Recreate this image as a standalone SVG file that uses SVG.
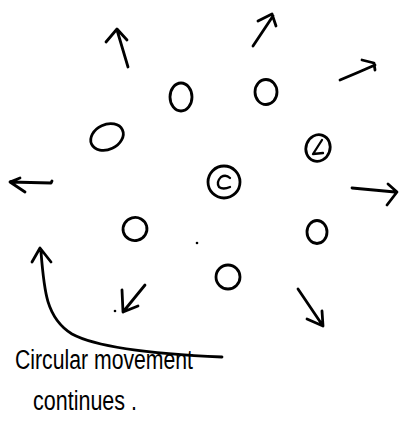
<svg xmlns="http://www.w3.org/2000/svg" width="400" height="423" viewBox="0 0 400 423">
<style>
.ink{fill:none;stroke:#000;stroke-width:2.8;stroke-linecap:round;stroke-linejoin:round}
.thin{fill:none;stroke:#000;stroke-width:2.3;stroke-linecap:round;stroke-linejoin:round}
.hand{font-family:"Liberation Sans","DejaVu Sans",sans-serif;font-size:27px;fill:#000}
</style>
<rect width="400" height="423" fill="#fff"/>
<g id="node-top-left"><ellipse class="ink" cx="181" cy="97" rx="11" ry="14"/></g>
<g id="node-top-right"><ellipse class="ink" cx="266" cy="92" rx="11" ry="12.5"/></g>
<g id="node-left"><ellipse class="ink" cx="107" cy="137" rx="17" ry="12.5" transform="rotate(-25 107 137)"/></g>
<g id="node-L"><ellipse class="ink" cx="318" cy="148" rx="12" ry="13.5" transform="rotate(20 318 148)"/><path class="thin" d="M322 140 L313 154 L323 153"/></g>
<g id="node-center"><ellipse class="ink" cx="224" cy="182" rx="16" ry="16"/><path class="thin" d="M230 178 Q226 174 221 177 Q216 182 219 187 Q223 190 230 187"/></g>
<g id="node-lower-left"><ellipse class="ink" cx="135" cy="229" rx="12" ry="11.5" transform="rotate(-15 135 229)"/></g>
<g id="node-right"><ellipse class="ink" cx="317" cy="232" rx="10" ry="11.5"/></g>
<g id="node-bottom"><ellipse class="ink" cx="228" cy="277" rx="12" ry="12"/></g>
<g id="dots"><circle cx="197" cy="243" r="1.3"/><circle cx="115" cy="311" r="1.3"/></g>
<g id="connectors">
<path class="ink" d="M128 67 L117 30 M106 42 L117 29 L127 40"/>
<path class="ink" d="M253 46 L273 16 M258 21 L272 14 L276 26"/>
<path class="ink" d="M340 80 Q357 73 375 65 M362 60 L374 63 L375 70"/>
<path class="ink" d="M52 181 L51 183 L10 182 M20 178 L10 182 L25 192"/>
<path class="ink" d="M352 188 L395 192 M388 184 L397 192 L387 205"/>
<path class="ink" d="M298 289 L323 326 M307 319 L323 326 L322 311"/>
<path class="ink" d="M145 285 L123 312 L122 290 M123 312 L138 306"/>
<path class="ink" d="M32 262 L40 248 L51 262 M41 252 C44 290 46 318 72 334 Q105 352 222 357"/>
</g>
<g id="caption">
<text class="hand" x="15" y="369" textLength="178" lengthAdjust="spacingAndGlyphs">Circular movement</text>
<text class="hand" x="33" y="410" textLength="104" lengthAdjust="spacingAndGlyphs">continues .</text>
</g>
</svg>
